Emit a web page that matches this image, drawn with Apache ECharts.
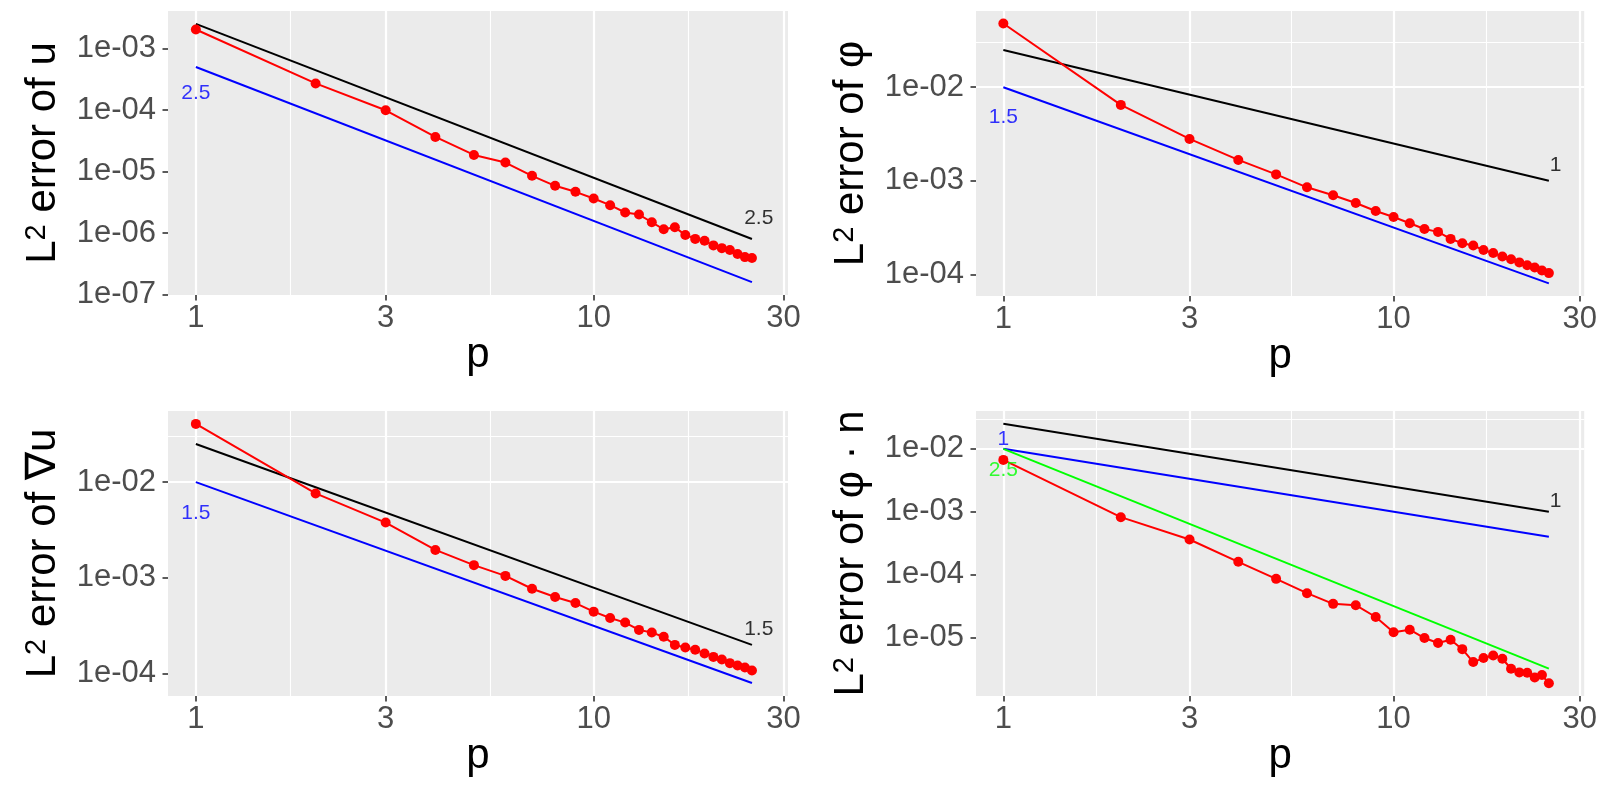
<!DOCTYPE html>
<html><head><meta charset="utf-8">
<script src="https://cdn.jsdelivr.net/npm/echarts@6/dist/echarts.min.js"></script>
<style>html,body{margin:0;padding:0;background:#fff}#c{width:1600px;height:800px}</style>
</head><body><div id="c"></div>
<script>
// ---- data ----
const pValues = [1,2,3,4,5,6,7,8,9,10,11,12,13,14,15,16,17,18,19,20,21,22,23,24,25];

const errU = [2.03e-3,2.70e-4,9.89e-5,3.65e-5,1.86e-5,1.40e-5,8.51e-6,5.86e-6,4.68e-6,3.65e-6,
  2.84e-6,2.16e-6,2.00e-6,1.50e-6,1.15e-6,1.24e-6,9.33e-7,8.04e-7,7.50e-7,6.31e-7,
  5.69e-7,5.31e-7,4.57e-7,4.07e-7,3.94e-7];
const errPhi = [4.80e-2,6.47e-3,2.80e-3,1.67e-3,1.17e-3,8.51e-4,7.00e-4,5.79e-4,4.75e-4,4.10e-4,
  3.51e-4,3.05e-4,2.84e-4,2.39e-4,2.15e-4,2.03e-4,1.82e-4,1.69e-4,1.55e-4,1.45e-4,
  1.34e-4,1.25e-4,1.18e-4,1.10e-4,1.03e-4];
const errGradU = [4.05e-2,7.62e-3,3.78e-3,1.96e-3,1.36e-3,1.05e-3,7.71e-4,6.32e-4,5.47e-4,4.45e-4,
  3.82e-4,3.42e-4,2.87e-4,2.69e-4,2.43e-4,2.00e-4,1.88e-4,1.78e-4,1.63e-4,1.50e-4,
  1.41e-4,1.29e-4,1.22e-4,1.16e-4,1.08e-4];
const errPhiN = [6.68e-3,8.20e-4,3.62e-4,1.60e-4,8.57e-5,5.07e-5,3.43e-5,3.27e-5,2.12e-5,1.21e-5,
  1.33e-5,9.82e-6,8.18e-6,9.23e-6,6.53e-6,4.07e-6,4.71e-6,5.19e-6,4.60e-6,3.19e-6,
  2.79e-6,2.75e-6,2.31e-6,2.53e-6,1.87e-6];

// reference slope lines: [p, error] endpoints
const refBlackU = [[1,2.5e-3],[25,8e-7]];
const refBlueU  = [[1,5e-4],[25,1.6e-7]];
const refBlackPhi = [[1,2.5e-2],[25,1e-3]];
const refBluePhi  = [[1,1e-2],[25,8e-5]];
const refBlackGradU = [[1,2.5e-2],[25,2e-4]];
const refBlueGradU  = [[1,1e-2],[25,8e-5]];
const refBlackPhiN = [[1,2.5e-2],[25,1e-3]];
const refBluePhiN  = [[1,1e-2],[25,4e-4]];
const refGreenPhiN = [[1,1e-2],[25,3.2e-6]];

// slope annotations: [p, error, text]
const annBlueU = [[1,1.85e-4,'2.5']];
const annBlackU = [[26,1.75e-6,'2.5']];
const annBluePhi = [[1,4.82e-3,'1.5']];
const annBlackPhi = [[26,1.47e-3,'1']];
const annBlueGradU = [[1,4.76e-3,'1.5']];
const annBlackGradU = [[26,2.9e-4,'1.5']];
const annBluePhiN = [[1,1.43e-2,'1']];
const annGreenPhiN = [[1,4.63e-3,'2.5']];
const annBlackPhiN = [[26,1.47e-3,'1']];

// axis ticks
const xTicks = [1,3,10,30];
const xMinorTicks = [1.732,5.477,17.32];
const yTicksU = [1e-7,1e-6,1e-5,1e-4,1e-3];
const yMinorU = [3.162e-7,3.162e-6,3.162e-5,3.162e-4,3.162e-3];
const yTicksPhi = [1e-4,1e-3,1e-2];
const yMinorPhi = [3.162e-4,3.162e-3,3.162e-2];
const yTicksGradU = [1e-4,1e-3,1e-2];
const yMinorGradU = [3.162e-4,3.162e-3,3.162e-2];
const yTicksPhiN = [1e-5,1e-4,1e-3,1e-2];
const yMinorPhiN = [3.162e-6,3.162e-5,3.162e-4,3.162e-3,3.162e-2];

const titles = ['u','φ','∇u','φ · n'];

// ---- build ----
const FONT = 'Liberation Sans, Arial, Helvetica, sans-serif';
const RED='#FF0000', BLUE='#0000FF', BLACK='#000000', GREEN='#00FF00';

const panels = [
  {grid:{left:168,top:11,width:620,height:284}, yMin:9.86e-8, yMax:4.055e-3, yTicks:yTicksU, yMinor:yMinorU, err:errU,
   lines:[[refBlackU,BLACK],[refBlueU,BLUE]], ann:[[annBlueU,BLUE],[annBlackU,BLACK]]},
  {grid:{left:976,top:11,width:614,height:285}, yMin:5.86e-5, yMax:0.0653, yTicks:yTicksPhi, yMinor:yMinorPhi, err:errPhi,
   lines:[[refBlackPhi,BLACK],[refBluePhi,BLUE]], ann:[[annBluePhi,BLUE],[annBlackPhi,BLACK]]},
  {grid:{left:168,top:411,width:620,height:285}, yMin:5.86e-5, yMax:0.0552, yTicks:yTicksGradU, yMinor:yMinorGradU, err:errGradU,
   lines:[[refBlackGradU,BLACK],[refBlueGradU,BLUE]], ann:[[annBlueGradU,BLUE],[annBlackGradU,BLACK]]},
  {grid:{left:976,top:411,width:614,height:285}, yMin:1.175e-6, yMax:0.040, yTicks:yTicksPhiN, yMinor:yMinorPhiN, err:errPhiN,
   lines:[[refBlackPhiN,BLACK],[refBluePhiN,BLUE],[refGreenPhiN,GREEN]], ann:[[annBluePhiN,BLUE],[annGreenPhiN,GREEN],[annBlackPhiN,BLACK]]}
];

function yFmt(v){ const e = Math.round(Math.log10(v)); const a = Math.abs(e); return '1e' + (e<0?'-':'+') + (a<10?'0':'') + a; }

const option = {animation:false, backgroundColor:'#FFFFFF', grid:[], xAxis:[], yAxis:[], series:[]};

panels.forEach((pn, i) => {
  option.grid.push(Object.assign({show:true, backgroundColor:'#EBEBEB', borderWidth:0, containLabel:false}, pn.grid));
  option.xAxis.push({
    type:'log', logBase:10, gridIndex:i, min:0.851, max:30.8,
    name:'p', nameLocation:'middle', nameGap:36,
    nameTextStyle:{fontSize:42, color:'#000', fontFamily:FONT},
    axisLine:{show:false},
    axisTick:{show:true, length:5.5, customValues:xTicks, lineStyle:{color:'#333333', width:1.6}},
    axisLabel:{show:true, customValues:xTicks, fontSize:31, color:'#4D4D4D', fontFamily:FONT, margin:8,
      formatter:(v)=>String(Math.round(v))},
    splitLine:{show:false}, minorSplitLine:{show:false}
  });
  option.yAxis.push({
    type:'log', logBase:10, gridIndex:i, min:pn.yMin, max:pn.yMax,
    name:'{a|L}{s|2}{a| error of ' + titles[i] + '}', nameLocation:'middle', nameGap:104, nameRotate:90,
    nameTextStyle:{fontFamily:FONT, rich:{
      a:{fontSize:42, color:'#000', fontFamily:FONT},
      s:{fontSize:29, color:'#000', fontFamily:FONT, verticalAlign:'top'}}},
    axisLine:{show:false},
    axisTick:{show:true, length:5.5, customValues:pn.yTicks, lineStyle:{color:'#333333', width:1.6}},
    axisLabel:{show:true, customValues:pn.yTicks, fontSize:31, color:'#4D4D4D', fontFamily:FONT, margin:12,
      formatter:yFmt},
    splitLine:{show:false}, minorSplitLine:{show:false}
  });
  const gl = [];
  pn.yMinor.forEach(v => gl.push({yAxis:v, lineStyle:{width:1.1}}));
  xMinorTicks.forEach(v => gl.push({xAxis:v, lineStyle:{width:1.1}}));
  pn.yTicks.forEach(v => gl.push({yAxis:v, lineStyle:{width:2.2}}));
  xTicks.forEach(v => gl.push({xAxis:v, lineStyle:{width:2.2}}));
  // reference lines (first one carries the white panel grid as markLine)
  pn.lines.forEach(([pts, col], k) => {
    const s = {type:'line', xAxisIndex:i, yAxisIndex:i, data:pts, showSymbol:false, symbol:'none',
      lineStyle:{color:col, width:2}, z:3, silent:true};
    if (k===0) s.markLine = {silent:true, symbol:['none','none'], label:{show:false}, z:1, animation:false,
      lineStyle:{color:'#FFFFFF', type:'solid', opacity:1}, emphasis:{disabled:true}, data:gl};
    option.series.push(s);
  });
  option.series.push({type:'line', xAxisIndex:i, yAxisIndex:i, z:4,
    data:pValues.map((x,j)=>[x, pn.err[j]]), symbol:'circle', symbolSize:10, showSymbol:true,
    lineStyle:{color:RED, width:2}, itemStyle:{color:RED}, silent:true});
  pn.ann.forEach(([arr, col]) => {
    option.series.push({type:'scatter', xAxisIndex:i, yAxisIndex:i, z:5, symbolSize:0, silent:true,
      itemStyle:{color:col},
      data:arr.map(a => ({value:[a[0], a[1]], name:a[2]})),
      label:{show:true, position:'inside', formatter:(d)=>d.name, color:col, fontSize:21, fontFamily:FONT,
        textBorderWidth:0, textShadowBlur:0}});
  });
});

const chart = echarts.init(document.getElementById('c'), null, {renderer:'canvas'});
chart.setOption(option);
</script>
</body></html>
